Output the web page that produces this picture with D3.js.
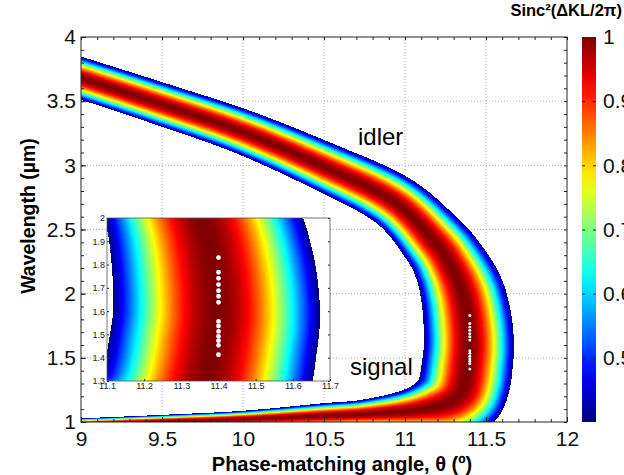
<!DOCTYPE html>
<html>
<head>
<meta charset="utf-8">
<script src="https://cdn.jsdelivr.net/npm/d3@7"></script>
<style>
body { margin: 0; background: #fff; }
text { font-family: "Liberation Sans", Arial, sans-serif; }
</style>
</head>
<body>
<svg width="624" height="475"></svg>
<script>

// centre line of the phase-matching band
var centreAngle = [8.55, 9.0, 9.5, 10.0, 10.5, 10.93, 11.185, 11.29, 11.355, 11.385, 11.395, 11.385, 11.37, 11.34, 11.25, 11.05, 10.75, 10.5, 10.0, 9.5, 9.0, 8.5];
var centreWave  = [3.86, 3.68, 3.475, 3.26, 2.99, 2.72, 2.40, 2.20, 2.00, 1.80, 1.60, 1.45, 1.32, 1.22, 1.14, 1.09, 1.062, 1.048, 1.022, 1.003, 0.985, 0.97];
// half width of the band across the curve (where sinc^2 drops to 0.4), degrees
var halfWidth   = [0.125, 0.127, 0.131, 0.138, 0.152, 0.172, 0.205, 0.23, 0.258, 0.272, 0.278, 0.28, 0.28, 0.27, 0.22, 0.14, 0.09, 0.078, 0.052, 0.042, 0.035, 0.03];

// white markers at 11.4 deg
var dotAngle = 11.4;
var dotWave = [1.830, 1.767, 1.741, 1.714, 1.688, 1.664, 1.638, 1.556, 1.536, 1.513, 1.492, 1.473, 1.453, 1.413];

var xTicks = [9, 9.5, 10, 10.5, 11, 11.5, 12];
var yTicks = [1, 1.5, 2, 2.5, 3, 3.5, 4];
var cTicks = [0.5, 0.6, 0.7, 0.8, 0.9, 1];
var cTickLabels = ["0.5", "0.6", "0.7", "0.8", "0.9", "1"];
var insetXTicks = [11.1, 11.2, 11.3, 11.4, 11.5, 11.6, 11.7];
var insetYTicks = [1.3, 1.4, 1.5, 1.6, 1.7, 1.8, 1.9, 2];
var insetYLabels = ["1.3", "1.4", "1.5", "1.6", "1.7", "1.8", "1.9", "2"];

var svg = d3.select("svg");

var x = d3.scaleLinear().domain([9, 12]).range([81, 567]),
    y = d3.scaleLinear().domain([1, 4]).range([422, 37]),
    c = d3.scaleLinear().domain([0.4, 1]).range([422, 37]),
    xi = d3.scaleLinear().domain([11.1, 11.7]).range([107, 330]),
    yi = d3.scaleLinear().domain([1.3, 2]).range([381, 218]);

var jet = d3.scaleLinear()
    .domain([0.4, 0.475, 0.625, 0.775, 0.925, 1])
    .range(["#000080", "#0000ff", "#00ffff", "#ffff00", "#ff0000", "#800000"])
    .clamp(true);

var lut = d3.range(256).map(function(i) {
  var col = d3.rgb(jet(0.4 + 0.6 * i / 255));
  return [col.r, col.g, col.b];
});

// centre line in main-plot pixels, smoothed with catmull-rom
var degPx = x(1) - x(0);
var P = centreAngle.map(function(a, i) {
  return [x(a), y(centreWave[i]), halfWidth[i] * degPx];
});
var S = [];
for (var i = 0; i < P.length - 1; i++) {
  var p0 = P[Math.max(i - 1, 0)], p1 = P[i], p2 = P[i + 1], p3 = P[Math.min(i + 2, P.length - 1)];
  for (var s = 0; s < 12; s++) {
    var t = s / 12, t2 = t * t, t3 = t2 * t;
    S.push([0, 1, 2].map(function(k) {
      return 0.5 * (2 * p1[k] + (-p0[k] + p2[k]) * t +
        (2 * p0[k] - 5 * p1[k] + 4 * p2[k] - p3[k]) * t2 +
        (-p0[k] + 3 * p1[k] - 3 * p2[k] + p3[k]) * t3);
    }));
  }
}
S.push(P[P.length - 1]);

function band(px, py) {
  var best = Infinity;
  for (var k = 0; k < S.length - 1; k++) {
    var a = S[k], b = S[k + 1];
    var dx = b[0] - a[0], dy = b[1] - a[1];
    var t = ((px - a[0]) * dx + (py - a[1]) * dy) / (dx * dx + dy * dy);
    t = t < 0 ? 0 : t > 1 ? 1 : t;
    var qx = a[0] + t * dx - px, qy = a[1] + t * dy - py;
    var h = a[2] + t * (b[2] - a[2]);
    var dn = (qx * qx + qy * qy) / (h * h);
    if (dn < best) best = dn;
  }
  return Math.sqrt(best);
}

function sinc2(dn) {
  if (dn >= 1) return 0;
  var u = 1.581 * dn;
  if (u < 1e-6) return 1;
  var v = Math.sin(u) / u;
  return v * v;
}

function paint(w, h, toMain) {
  var cv = document.createElement("canvas");
  cv.width = w; cv.height = h;
  var ctx = cv.getContext("2d");
  var img = ctx.createImageData(w, h);
  for (var j = 0; j < h; j++) {
    for (var i = 0; i < w; i++) {
      var p = toMain(i + 0.5, j + 0.5);
      var v = sinc2(band(p[0], p[1]));
      if (v < 0.4) continue;
      var col = lut[Math.round((v - 0.4) / 0.6 * 255)];
      var o = (j * w + i) * 4;
      img.data[o] = col[0]; img.data[o + 1] = col[1]; img.data[o + 2] = col[2]; img.data[o + 3] = 255;
    }
  }
  ctx.putImageData(img, 0, 0);
  return cv.toDataURL();
}

svg.append("rect").attr("width", 624).attr("height", 475).attr("fill", "#fff");

// grid
var grid = svg.append("g").attr("stroke", "#b0b0b0").attr("stroke-dasharray", "1,2");
grid.selectAll(".gx").data(xTicks.slice(1, -1)).enter().append("line")
    .attr("x1", function(d) { return x(d); }).attr("x2", function(d) { return x(d); })
    .attr("y1", y(1)).attr("y2", y(4));
grid.selectAll(".gy").data(yTicks.slice(1, -1)).enter().append("line")
    .attr("y1", function(d) { return y(d); }).attr("y2", function(d) { return y(d); })
    .attr("x1", x(9)).attr("x2", x(12));

// main map
svg.append("image")
    .attr("x", x(9)).attr("y", y(4))
    .attr("width", x(12) - x(9)).attr("height", y(1) - y(4))
    .attr("href", paint(x(12) - x(9), y(1) - y(4), function(i, j) { return [x(9) + i, y(4) + j]; }));

svg.selectAll(".dot").data(dotWave).enter().append("circle")
    .attr("cx", x(dotAngle)).attr("cy", function(d) { return y(d); })
    .attr("r", 1.5).attr("fill", "#fff");

svg.append("text").attr("x", 358).attr("y", 145).attr("font-size", 24).text("idler");
svg.append("text").attr("x", 350).attr("y", 375).attr("font-size", 24).text("signal");

// axes
var minorX = d3.range(9, 12.001, 0.1), minorY = d3.range(1, 4.001, 0.1);
function axisStyle(g) {
  g.select(".domain").remove();
  g.selectAll("line").attr("stroke", "#222");
}
svg.append("g").attr("transform", "translate(0," + y(1) + ")")
    .call(d3.axisBottom(x).tickValues(minorX).tickSize(-3).tickFormat("")).call(axisStyle);
svg.append("g").attr("transform", "translate(0," + y(4) + ")")
    .call(d3.axisTop(x).tickValues(minorX).tickSize(-3).tickFormat("")).call(axisStyle);
svg.append("g").attr("transform", "translate(" + x(9) + ",0)")
    .call(d3.axisLeft(y).tickValues(minorY).tickSize(-3).tickFormat("")).call(axisStyle);
svg.append("g").attr("transform", "translate(" + x(12) + ",0)")
    .call(d3.axisRight(y).tickValues(minorY).tickSize(-3).tickFormat("")).call(axisStyle);

svg.append("g").attr("transform", "translate(0," + y(1) + ")")
    .call(d3.axisBottom(x).tickValues(xTicks).tickSize(-5).tickPadding(9).tickFormat(function(d) { return d; }))
    .call(axisStyle)
    .selectAll("text").attr("font-size", 21).attr("fill", "#111").attr("font-family", null);
svg.append("g").attr("transform", "translate(" + x(9) + ",0)")
    .call(d3.axisLeft(y).tickValues(yTicks).tickSize(-5).tickPadding(5).tickFormat(function(d) { return d; }))
    .call(axisStyle)
    .selectAll("text").attr("font-size", 21).attr("fill", "#111").attr("font-family", null);

svg.append("rect").attr("x", x(9)).attr("y", y(4))
    .attr("width", x(12) - x(9)).attr("height", y(1) - y(4))
    .attr("fill", "none").attr("stroke", "#222");

// inset
var inset = svg.append("g");
inset.append("rect").attr("x", xi(11.1)).attr("y", yi(2))
    .attr("width", xi(11.7) - xi(11.1)).attr("height", yi(1.3) - yi(2)).attr("fill", "#fff");
inset.append("image")
    .attr("x", xi(11.1)).attr("y", yi(2))
    .attr("width", xi(11.7) - xi(11.1)).attr("height", yi(1.3) - yi(2))
    .attr("href", paint(xi(11.7) - xi(11.1), yi(1.3) - yi(2), function(i, j) {
      return [x(xi.invert(xi(11.1) + i)), y(yi.invert(yi(2) + j))];
    }));
inset.selectAll(".idot").data(dotWave).enter().append("circle")
    .attr("cx", xi(dotAngle)).attr("cy", function(d) { return yi(d); })
    .attr("r", 2.4).attr("fill", "#fff");
inset.append("g").attr("transform", "translate(0," + yi(1.3) + ")")
    .call(d3.axisBottom(xi).tickValues(insetXTicks).tickSize(-2).tickPadding(2).tickFormat(function(d) { return d; }))
    .call(axisStyle)
    .selectAll("text").attr("font-size", 9).attr("fill", "#222").attr("font-family", null);
inset.append("g").attr("transform", "translate(" + xi(11.1) + ",0)")
    .call(d3.axisLeft(yi).tickValues(insetYTicks).tickSize(-2).tickPadding(2).tickFormat(function(d, i) { return insetYLabels[i]; }))
    .call(axisStyle)
    .selectAll("text").attr("font-size", 9).attr("fill", "#222").attr("font-family", null);
inset.append("g").attr("transform", "translate(" + xi(11.7) + ",0)")
    .call(d3.axisRight(yi).tickValues(insetYTicks).tickSize(-2).tickFormat("")).call(axisStyle);
inset.append("rect").attr("x", xi(11.1)).attr("y", yi(2))
    .attr("width", xi(11.7) - xi(11.1)).attr("height", yi(1.3) - yi(2))
    .attr("fill", "none").attr("stroke", "#555").attr("stroke-width", 0.8);

// colour bar
var grad = svg.append("defs").append("linearGradient").attr("id", "jet")
    .attr("x1", 0).attr("y1", 1).attr("x2", 0).attr("y2", 0);
grad.selectAll("stop").data(d3.range(0, 1.001, 0.05)).enter().append("stop")
    .attr("offset", function(d) { return d; })
    .attr("stop-color", function(d) { return jet(0.4 + 0.6 * d); });
svg.append("rect").attr("x", 582).attr("y", c(1)).attr("width", 14).attr("height", c(0.4) - c(1))
    .attr("fill", "url(#jet)");
svg.append("g").attr("transform", "translate(596,0)")
    .call(d3.axisRight(c).tickValues(cTicks).tickSize(-3).tickPadding(7).tickFormat(function(d, i) { return cTickLabels[i]; }))
    .call(axisStyle)
    .selectAll("text").attr("font-size", 21).attr("fill", "#111").attr("font-family", null);
svg.append("g").attr("transform", "translate(582,0)")
    .call(d3.axisLeft(c).tickValues(cTicks).tickSize(-3).tickFormat("")).call(axisStyle);

svg.append("text").attr("x", 622).attr("y", 16).attr("text-anchor", "end")
    .attr("font-size", 16.5).attr("font-weight", "bold").text("Sinc\u00b2(\u0394KL/2\u03c0)");

svg.append("text").attr("transform", "translate(35,216) rotate(-90)").attr("text-anchor", "middle")
    .attr("font-size", 19.5).attr("font-weight", "bold").text("Wavelength (\u00b5m)");
svg.append("text").attr("x", 342).attr("y", 471).attr("text-anchor", "middle")
    .attr("font-size", 20).attr("font-weight", "bold").text("Phase-matching angle, \u03b8 (\u00ba)");

</script>
</body>
</html>
